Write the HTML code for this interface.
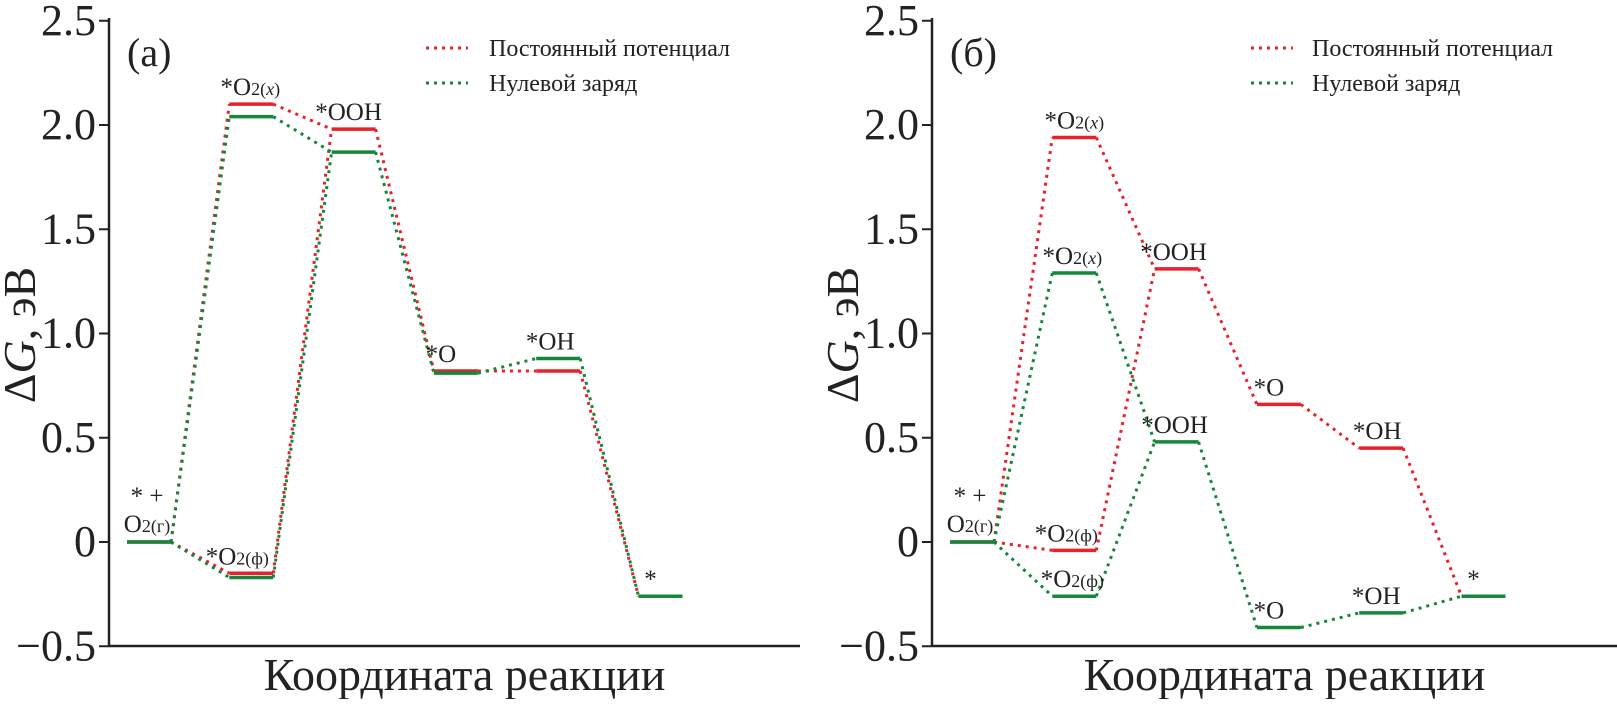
<!DOCTYPE html>
<html><head><meta charset="utf-8">
<style>
html,body{margin:0;padding:0;background:#fff;}
svg, svg text{font-family:"Liberation Serif","Times New Roman",serif;}
svg text{fill:#222;}
</style></head>
<body>
<svg id="c" width="1617" height="699" xmlns="http://www.w3.org/2000/svg" font-family="Liberation Serif, serif"></svg>
<script>
const steps = ["start","O2x","O2f","OOH","O","OH","end"];
const yTicks = [2.5,2.0,1.5,1.0,0.5,0,-0.5];
const yTickLabels = ["2.5","2.0","1.5","1.0","0.5","0","\u22120.5"];
const aRed   = [0, 2.10, -0.15, 1.98, 0.82, 0.82, -0.26];
const aGreen = [0, 2.04, -0.17, 1.87, 0.81, 0.88, -0.26];
const bRed   = [0, 1.94, -0.04, 1.31, 0.66, 0.45, -0.26];
const bGreen = [0, 1.29, -0.26, 0.48, -0.41, -0.34, -0.26];
const legendLabels = ["Постоянный потенциал","Нулевой заряд"];

const NS="http://www.w3.org/2000/svg";
const svg=document.getElementById('c');
function mk(tag,attrs,parent){const e=document.createElementNS(NS,tag);for(const k in attrs)e.setAttribute(k,attrs[k]);if(tag==='text')e.setAttribute('font-family','Liberation Serif, serif');(parent||svg).appendChild(e);return e;}
const colIdx=[0,1,1,2,3,4,5];
const links=[[0,1],[0,2],[1,3],[2,3],[3,4],[4,5],[5,6]];
const RED="#e8212a", GREEN="#14873c";

function panel(px0, axisRight, firstCol, red, green, tag, labels){
  const g=mk('g',{});
  
  
  const y0=542, unit=208.5;
  const ys=v=>y0-v*unit;
  const xs=i=>firstCol+colIdx[i]*102.3;
  const hw=22;
  const ya=mk('line',{x1:px0,y1:18,x2:px0,y2:646,stroke:'#222','stroke-width':2.5},g);
  
  const xa=mk('line',{x1:px0,y1:646,x2:axisRight,y2:646,stroke:'#222','stroke-width':2.5},g);
  
  yTicks.forEach((t,i)=>{
    const tk=mk('line',{x1:px0-10,y1:ys(t),x2:px0,y2:ys(t),stroke:'#222','stroke-width':2},g);
    
    const tl=mk('text',{x:px0-13,y:ys(t)+14,'text-anchor':'end','font-size':44},g);
    tl.textContent=yTickLabels[i];
    
  });
  const yt=mk('text',{x:0,y:0,'font-size':46,'text-anchor':'middle',transform:`translate(${px0-74},335) rotate(-90)`},g);
  yt.innerHTML='\u0394<tspan font-style="italic">G</tspan>, эВ';
  
  const xt=mk('text',{x:(px0+axisRight)/2+10,y:690,'font-size':46,'text-anchor':'middle'},g);
  xt.textContent='Координата реакции';
  
  const pl=mk('text',{x:px0+18,y:66,'font-size':40},g);
  pl.textContent='('+tag+')';
  
  [[red,RED,'red'],[green,GREEN,'green']].forEach(([vals,col,nm])=>{
    links.forEach(([a,b])=>{
      const l=mk('line',{x1:xs(a)+hw,y1:ys(vals[a]),x2:xs(b)-hw,y2:ys(vals[b]),stroke:col,'stroke-width':3,'stroke-dasharray':'3 5'},g);
      
    });
    vals.forEach((v,i)=>{
      const l=mk('line',{x1:xs(i)-hw,y1:ys(v),x2:xs(i)+hw,y2:ys(v),stroke:col,'stroke-width':3.5},g);
      
    });
  });
  labels.forEach(([i,v,txt,dx])=>{
    const t=mk('text',{x:xs(i)+(dx||0),y:ys(v)-9,'font-size':25,'text-anchor':'middle'},g);
    t.innerHTML=txt;
    
  });
  const st=mk('text',{x:xs(0)-2,y:ys(0)-38,'font-size':25,'text-anchor':'middle'},g);
  st.textContent='* +';
  
  const st2=mk('text',{x:xs(0)-2,y:ys(0)-10,'font-size':25,'text-anchor':'middle'},g);
  st2.innerHTML='O<tspan font-size="18">2(г)</tspan>';
  
  const lx=px0+(tag==='a'?317:319), tx=px0+380;
  [[RED,48],[GREEN,83]].forEach(([col,yy],k)=>{
    const l=mk('line',{x1:lx,y1:yy,x2:lx+42,y2:yy,stroke:col,'stroke-width':3,'stroke-dasharray':'3 5'},g);
    
    const t=mk('text',{x:tx,y:yy+8,'font-size':24},g);
    t.textContent=legendLabels[k];
    
  });
}
const O2x='*O<tspan font-size="18">2(<tspan font-style="italic">x</tspan>)</tspan>';
const O2f='*O<tspan font-size="18">2(ф)</tspan>';
panel(109,800,149,aRed,aGreen,'a',[
  [1,aRed[1],O2x,-1],[2,aRed[2],O2f,-14],[3,aRed[3],'*OOH',-5],[4,aRed[4],'*O',-15],[5,aGreen[5],'*OH',-8],[6,aRed[6],'*',-10]
]);
panel(932,1617,972,bRed,bGreen,'б',[
  [1,bRed[1],O2x,0],[1,bGreen[1],O2x,-2],[2,bRed[2],O2f,-8],[2,bGreen[2],O2f,-2],
  [3,bRed[3],'*OOH',-3],[3,bGreen[3],'*OOH',-2],[4,bRed[4],'*O',-10],[4,bGreen[4],'*O',-10],
  [5,bRed[5],'*OH',-4],[5,bGreen[5],'*OH',-5],[6,bRed[6],'*',-10]
]);
</script>
</body></html>
